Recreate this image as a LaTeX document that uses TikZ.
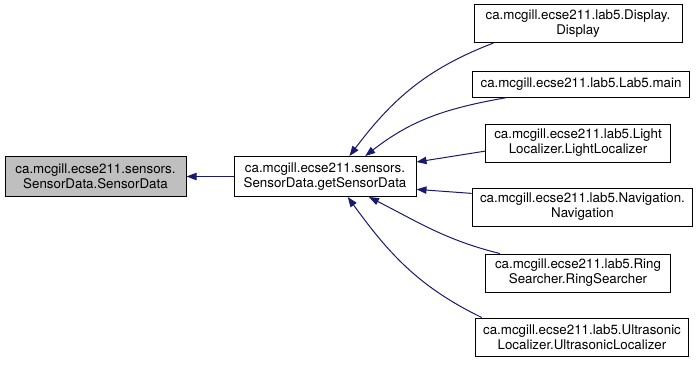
\documentclass[tikz,border=0pt]{standalone}
\usepackage{fontspec}
\setmainfont{TeX Gyre Heros}
\usetikzlibrary{arrows.meta}
\definecolor{edgeblue}{HTML}{191970}
\definecolor{hlgray}{HTML}{BFBFBF}

\begin{document}
\begin{tikzpicture}[x=0.75pt,y=-0.75pt,
    fn/.style={draw,line width=0.75pt,fill=white,align=center,inner xsep=6pt,
               inner ysep=2pt,minimum height=28.5pt,
               font=\fontsize{10}{11.25}\selectfont},
    call/.style={draw=edgeblue,line width=0.75pt,
                 -{Triangle[length=7.5pt,width=5.5pt]}}]
  \useasboundingbox (0,0) rectangle (696,365);
  % --- the callee (highlighted) and its direct caller ---
  \node[fn,fill=hlgray,minimum width=181*0.75pt,minimum height=30.5pt] (sdata) at (95.5,176.5)
       {ca.mcgill.ecse211.sensors.\\SensorData.SensorData};
  \node[fn,minimum width=182*0.75pt,minimum height=30pt] (getdata) at (325,176.5)
       {ca.mcgill.ecse211.sensors.\\SensorData.getSensorData};
  % --- callers in lab5 ---
  \node[fn,minimum width=208*0.75pt] (display) at (578,23.5) {ca.mcgill.ecse211.lab5.Display.\\Display};
  \node[fn,minimum height=19pt] (labmain) at (581,84.5) {ca.mcgill.ecse211.lab5.Lab5.main};
  \node[fn,minimum width=185*0.75pt] (light) at (578,143) {ca.mcgill.ecse211.lab5.Light\\Localizer.LightLocalizer};
  \node[fn] (nav) at (582.5,207) {ca.mcgill.ecse211.lab5.Navigation.\\Navigation};
  \node[fn,minimum width=185*0.75pt] (ring) at (578,273) {ca.mcgill.ecse211.lab5.Ring\\Searcher.RingSearcher};
  \node[fn] (ultra) at (582,337) {ca.mcgill.ecse211.lab5.Ultrasonic\\Localizer.UltrasonicLocalizer};
  % --- call edges ---
  \draw[call] (getdata) -- (sdata);
  \draw[call] (display.193) to[out=201,in=53] (getdata.40);
  \draw[call] (labmain.190) to[out=190,in=38] (getdata.27);
  \draw[call] (light.185) -- (getdata.9);
  \draw[call] (nav.173) -- (getdata.-8);
  \draw[call] (ring.166) to[out=166,in=333] (getdata.-25);
  \draw[call] (ultra.169) to[out=154,in=306] (getdata.-42);
\end{tikzpicture}
\end{document}
